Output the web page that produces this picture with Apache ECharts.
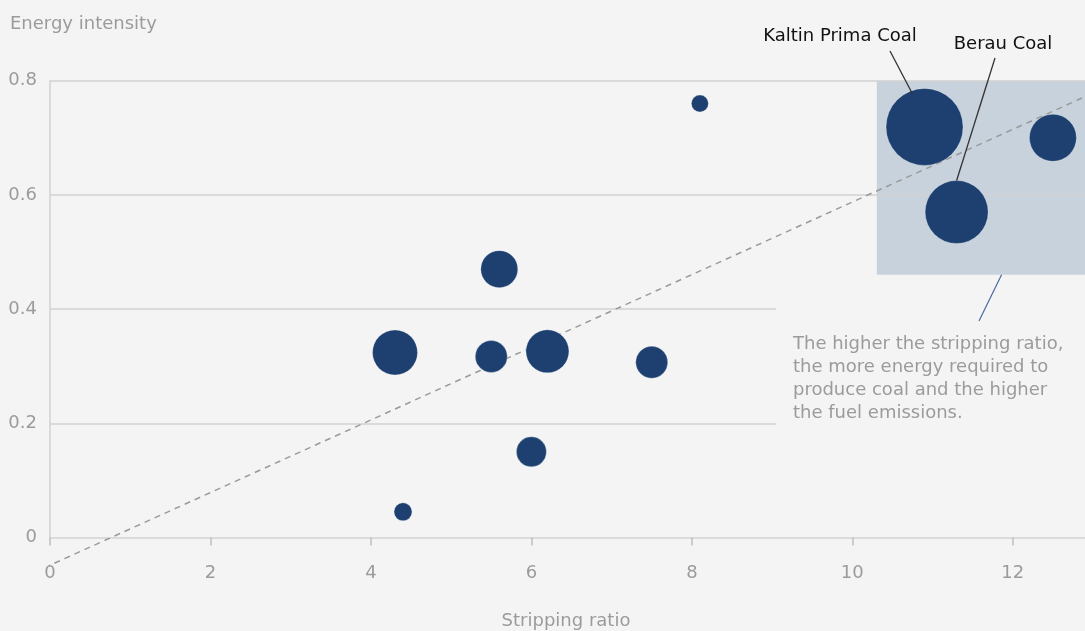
<!DOCTYPE html>
<html>
<head>
<meta charset="utf-8">
<script src="https://cdn.jsdelivr.net/npm/echarts@6/dist/echarts.min.js"></script>
<style>
html,body{margin:0;padding:0;background:#f4f4f4;}
#chart{width:1085px;height:631px;}
</style>
</head>
<body>
<div id="chart"></div>
<script>
// ---- data ----
const strippingRatio = [4.4, 8.1, 5.5, 7.5, 6.0, 5.6, 6.2, 4.3, 12.5, 11.3, 10.9];
const energyIntensity = [0.045, 0.760, 0.317, 0.307, 0.150, 0.470, 0.326, 0.324, 0.700, 0.570, 0.719];
const bubbleSize = [18, 17, 32, 32, 30, 37, 43, 45, 47, 63, 77];
const mineNames = ['', '', '', '', '', '', '', '', '', 'Berau Coal', 'Kaltin Prima Coal'];
const xTicks = [0, 2, 4, 6, 8, 10, 12];
const yTicks = [0, 0.2, 0.4, 0.6, 0.8];
const trendX = [-0.07, 12.9];
const trendY = [-0.053, 0.772];
const gridY = [0.2, 0.4, 0.6, 0.8];
const gridEndX = [9.05, 9.05, 12.9, 12.9];
const highlightBox = [[10.305, 0.46], [12.9, 0.8]];
const xTitle = 'Stripping ratio';
const yTitle = 'Energy intensity';
const noteText = 'The higher the stripping ratio,\nthe more energy required to\nproduce coal and the higher\nthe fuel emissions.';

const FONT = '"DejaVu Sans", sans-serif';
const FS = 18;
const GREY = '#9b9b9b';
const LINE = '#d2d2d2';
const BLUE = '#1d4070';

const chart = echarts.init(document.getElementById('chart'));

const points = strippingRatio.map((x, i) => ({
  value: [x, energyIntensity[i]],
  symbolSize: bubbleSize[i],
  name: mineNames[i]
}));

const option = {
  backgroundColor: '#f4f4f4',
  animation: false,
  grid: { left: 50, right: 0, top: 80.7, bottom: 93.5 },
  xAxis: {
    type: 'value', min: 0, max: 12.9,
    axisLine: { show: true, lineStyle: { color: LINE, width: 1.5 } },
    axisTick: { show: true, length: 8, lineStyle: { color: '#bdbdbd', width: 1.5 }, customValues: xTicks },
    axisLabel: { color: GREY, fontSize: FS, fontFamily: FONT, margin: 27, customValues: xTicks },
    splitLine: { show: false }
  },
  yAxis: {
    type: 'value', min: 0, max: 0.8, interval: 0.2,
    axisLine: { show: true, lineStyle: { color: LINE, width: 1.5 } },
    axisTick: { show: false },
    axisLabel: { color: GREY, fontSize: FS, fontFamily: FONT, margin: 13, customValues: yTicks,
      formatter: v => (v === 0 ? '0' : v.toFixed(1)) },
    splitLine: { show: false }
  },
  series: [
    {
      type: 'line',
      data: trendX.map((x, i) => [x, trendY[i]]),
      symbol: 'none',
      clip: false,
      silent: true,
      z: 3,
      lineStyle: { color: '#9a9a9a', width: 1.5, type: [6, 5] },
      markLine: {
        silent: true, symbol: 'none', z: 1,
        label: { show: false },
        lineStyle: { color: LINE, width: 1.5, type: 'solid' },
        data: gridY.map((y, i) => [{ coord: [0, y] }, { coord: [gridEndX[i], y] }])
      },
      markArea: {
        silent: true,
        itemStyle: { color: '#c8d2dd' },
        data: [[{ coord: highlightBox[0] }, { coord: highlightBox[1] }]]
      }
    },
    {
      type: 'scatter',
      data: points,
      z: 4,
      itemStyle: { color: BLUE, opacity: 1, borderColor: 'rgba(255,255,255,0.25)', borderWidth: 1 }
    }
  ]
};
chart.setOption(option);

// annotations positioned relative to the chart's own scale
function px(x, y) { return chart.convertToPixel({ gridIndex: 0 }, [x, y]); }
const kIdx = mineNames.indexOf('Kaltin Prima Coal');
const bIdx = mineNames.indexOf('Berau Coal');
const kC = px(strippingRatio[kIdx], energyIntensity[kIdx]);
const bC = px(strippingRatio[bIdx], energyIntensity[bIdx]);
const boxBottom = px(11.86, highlightBox[0][1]);

chart.setOption({
  graphic: [
    { type: 'text', left: 10, top: 15, style: { text: yTitle, fill: GREY, font: FS + 'px ' + FONT } },
    { type: 'text', x: 566, y: 621, style: { text: xTitle, fill: GREY, font: FS + 'px ' + FONT, align: 'center', verticalAlign: 'middle' } },
    { type: 'text', x: 840, y: 36, style: { text: 'Kaltin Prima Coal', fill: '#111', font: FS + 'px ' + FONT, align: 'center', verticalAlign: 'middle' } },
    { type: 'text', x: 1003, y: 44, style: { text: 'Berau Coal', fill: '#111', font: FS + 'px ' + FONT, align: 'center', verticalAlign: 'middle' } },
    { type: 'line', z: 10, shape: { x1: 890, y1: 51, x2: kC[0] - 12, y2: kC[1] - 33 }, style: { stroke: '#333', lineWidth: 1.3 } },
    { type: 'line', z: 10, shape: { x1: 995, y1: 58, x2: bC[0], y2: bC[1] - bubbleSize[bIdx] / 2 }, style: { stroke: '#333', lineWidth: 1.3 } },
    { type: 'line', z: 10, shape: { x1: boxBottom[0], y1: boxBottom[1], x2: 979, y2: 321 }, style: { stroke: '#4a6a9e', lineWidth: 1.2 } },
    { type: 'text', left: 793, top: 333, style: { text: noteText, fill: GREY, font: FS + 'px ' + FONT, lineHeight: 23 } }
  ]
});
</script>
</body>
</html>
